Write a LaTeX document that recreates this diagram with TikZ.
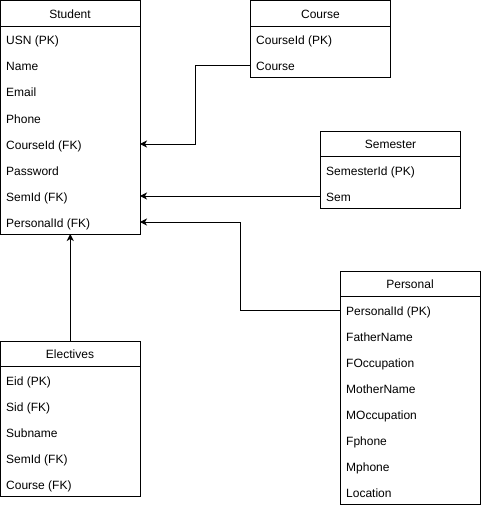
\documentclass[tikz,border=0pt]{standalone}
\usepackage{fontspec}
\setmainfont{Liberation Sans}
\usetikzlibrary{arrows.meta}
\begin{document}
\begin{tikzpicture}[x=1pt,y=-1pt,
  tbl/.style={draw,line width=1pt,anchor=north west,inner sep=0pt,outer sep=0pt},
  hdr/.style={font=\fontsize{12}{14}\selectfont,inner sep=0pt,text height=10pt,text depth=1pt},
  fld/.style={font=\fontsize{12}{14}\selectfont,anchor=west,inner sep=0pt,text height=11pt,text depth=1pt},
  conn/.style={line width=1pt,-{Stealth[length=7pt,width=7pt,inset=2pt]}},
]
\useasboundingbox (0,0) rectangle (481,508);

% Student table
\node[tbl,minimum width=139.5pt,minimum height=233pt] (student) at (0.5,1) {};
\draw[line width=1pt] (0.5,26.5) -- (140,26.5);
\node[hdr] (student-h) at (70,14) {Student};
\node[fld] (s-usn) at (6,40) {USN (PK)};
\node[fld] (s-name) at (6,66) {Name};
\node[fld] (s-email) at (6,92) {Email};
\node[fld] (s-phone) at (6,118) {Phone};
\node[fld] (s-cid) at (6,144) {CourseId (FK)};
\node[fld] (s-pwd) at (6,170) {Password};
\node[fld] (s-sid) at (6,196) {SemId (FK)};
\node[fld] (s-pid) at (6,222) {PersonalId (FK)};

% Course table
\node[tbl,minimum width=140pt,minimum height=77pt] (course) at (250.5,1) {};
\draw[line width=1pt] (250.5,26.5) -- (390.5,26.5);
\node[hdr] (course-h) at (320.5,14) {Course};
\node[fld] (c-cid) at (256,40) {CourseId (PK)};
\node[fld] (c-course) at (256,66) {Course};

% Semester table
\node[tbl,minimum width=140pt,minimum height=77pt] (semester) at (320.5,131) {};
\draw[line width=1pt] (320.5,156.5) -- (460.5,156.5);
\node[hdr] (semester-h) at (390.5,144) {Semester};
\node[fld] (m-sid) at (326,170) {SemesterId (PK)};
\node[fld] (m-sem) at (326,196) {Sem};

% Personal table
\node[tbl,minimum width=139.5pt,minimum height=233pt] (personal) at (340.5,271) {};
\draw[line width=1pt] (340.5,296.5) -- (480,296.5);
\node[hdr] (personal-h) at (410,284) {Personal};
\node[fld] (p-pid) at (346,310) {PersonalId (PK)};
\node[fld] (p-fn) at (346,336) {FatherName};
\node[fld] (p-fo) at (346,362) {FOccupation};
\node[fld] (p-mn) at (346,388) {MotherName};
\node[fld] (p-mo) at (346,414) {MOccupation};
\node[fld] (p-fp) at (346,440) {Fphone};
\node[fld] (p-mp) at (346,466) {Mphone};
\node[fld] (p-loc) at (346,492) {Location};

% Electives table
\node[tbl,minimum width=139.5pt,minimum height=155pt] (electives) at (0.5,341) {};
\draw[line width=1pt] (0.5,366.5) -- (140,366.5);
\node[hdr] (electives-h) at (70,354) {Electives};
\node[fld] (e-eid) at (6,380) {Eid (PK)};
\node[fld] (e-sid) at (6,406) {Sid (FK)};
\node[fld] (e-sub) at (6,432) {Subname};
\node[fld] (e-semid) at (6,458) {SemId (FK)};
\node[fld] (e-course) at (6,484) {Course (FK)};

% Relationships: each foreign key points back to its Student row
\draw[conn] (course.west |- c-course) -- (195.5,66) |- (student.east |- s-cid);
\draw[conn] (semester.west |- m-sem) -- (student.east |- s-sid);
\draw[conn] (personal.west |- p-pid) -- (240.5,310) |- (student.east |- s-pid);
\draw[conn] (electives.north) -- (student.south);
\end{tikzpicture}
\end{document}
